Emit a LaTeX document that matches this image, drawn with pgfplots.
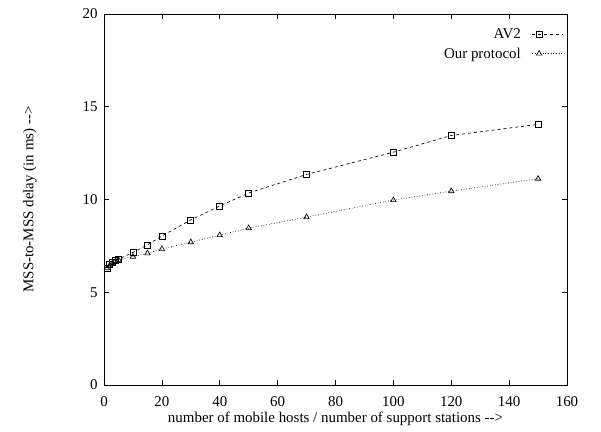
\documentclass[border=0pt]{standalone}
\usepackage{pgfplots}
\pgfplotsset{compat=1.18}
\usepackage{fontspec}
\setmainfont{Liberation Serif}
\begin{document}
\begin{tikzpicture}
\begin{axis}[
  name=ax,
  scale only axis,
  width=463bp, height=371bp,
  xmin=0, xmax=160, ymin=0, ymax=20,
  xtick={0,20,...,160}, ytick={0,5,...,20},
  tick align=inside,
  major tick length=5bp,
  axis line style={line width=0.8pt},
  tick style={line width=0.6pt, black},
  /pgf/number format/assume math mode=true,
  ticklabel style={font=\fontsize{15}{17}\selectfont},
  xticklabel style={yshift=-8bp},
  yticklabel style={xshift=-3bp},
  label style={font=\fontsize{15}{17}\selectfont},
  xlabel={number of mobile hosts / number of support stations -{}->},
  ylabel={MSS-to-MSS delay (in ms) -{}->},
  xlabel style={at={(axis description cs:0.5,-0.09)}, anchor=center},
  ylabel style={at={(axis description cs:-0.16,0.5)}, anchor=center},
  legend style={draw=none, fill=none, at={(0.995,0.97)}, anchor=north east,
    font=\fontsize{15}{17}\selectfont, row sep=4bp, inner sep=1bp},
  legend cell align=right,
  legend plot pos=right,
  legend image code/.code={\path (0bp,0bp); \draw[mark repeat=2,mark phase=2] plot coordinates {(9bp,0bp)(16bp,0bp)(40bp,0bp)};},
]
\addplot[black, dashed, line width=0.65pt, mark=square, mark size=3bp, mark options={solid, line width=0.65pt}]
coordinates {
(1,6.3) (2,6.5) (3,6.62) (4,6.72) (5,6.78) (10,7.15) (15,7.55) (20,8.03)
(30,8.9) (40,9.65) (50,10.35) (70,11.35) (100,12.55) (120,13.45) (150,14.05)
};
\addlegendentry{AV2}
\addplot[black, dotted, line width=0.65pt, mark=triangle, mark size=3.1bp, mark options={solid, line width=0.65pt}]
coordinates {
(1,6.3) (2,6.45) (3,6.58) (4,6.68) (5,6.75) (10,6.92) (15,7.1) (20,7.33)
(30,7.7) (40,8.08) (50,8.46) (70,9.05) (100,9.97) (120,10.45) (150,11.12)
};
\addlegendentry{Our protocol}
\end{axis}
\path ([xshift=-104bp,yshift=-47bp]ax.south west) rectangle ([xshift=34bp,yshift=14bp]ax.north east);
\end{tikzpicture}
\end{document}
